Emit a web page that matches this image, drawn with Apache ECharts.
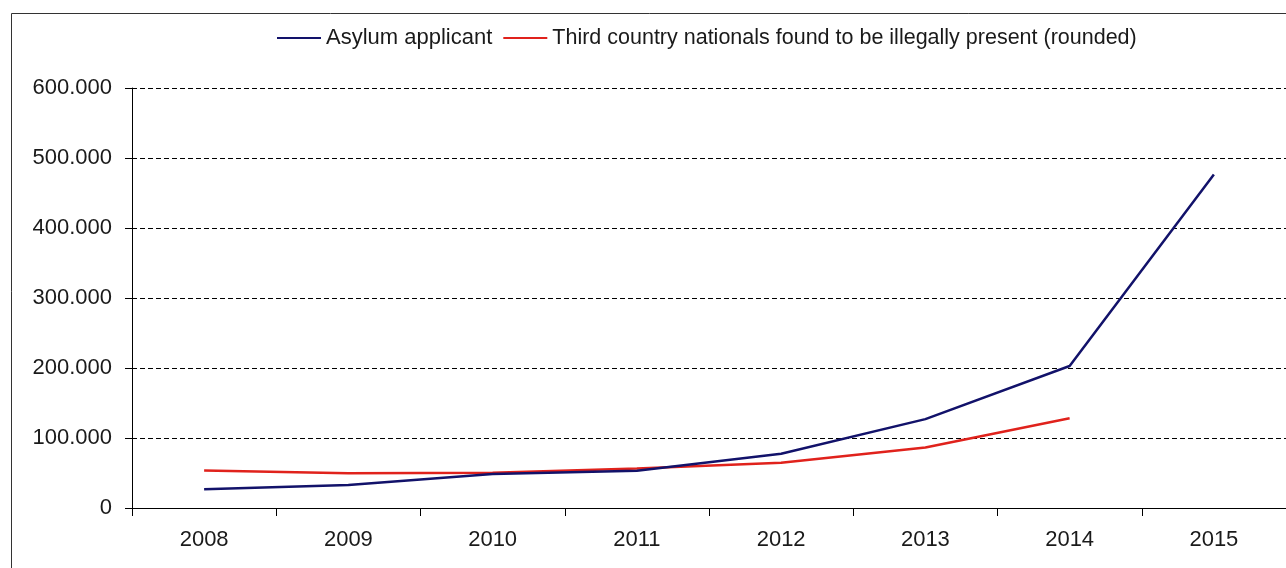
<!DOCTYPE html>
<html>
<head>
<meta charset="utf-8">
<script src="https://cdn.jsdelivr.net/npm/echarts@6/dist/echarts.min.js"></script>
<style>
  html, body { margin: 0; padding: 0; background: #fff; }
  #chart { width: 1286px; height: 568px; }
</style>
</head>
<body>
<div id="chart"></div>
<script>
const categories = ['2008', '2009', '2010', '2011', '2012', '2013', '2014', '2015'];
const seriesNames = ['Asylum applicant', 'Third country nationals found to be illegally present (rounded)'];
const asylumApplicants = [26800, 33000, 48600, 53300, 77500, 127000, 202800, 476500];
const illegallyPresent = [53700, 49500, 50300, 56300, 64800, 86300, 128300, null];
const yTicks = [0, 100000, 200000, 300000, 400000, 500000, 600000];

function fmt(v) {
  return String(Math.round(v)).replace(/\B(?=(\d{3})+(?!\d))/g, '.');
}

const FONT = "'Liberation Sans', Arial, sans-serif";
const TXT = '#1a1a1a';

const chart = echarts.init(document.getElementById('chart'), null, { renderer: 'canvas' });
chart.setOption({
  backgroundColor: '#ffffff',
  animation: false,
  graphic: [{
    type: 'rect',
    shape: { x: 11.5, y: 13.5, width: 1400, height: 700 },
    style: { fill: 'none', stroke: '#333', lineWidth: 1 },
    silent: true,
    z: 100
  }],
  legend: {
    left: 277,
    top: 27,
    padding: 0,
    itemGap: 11,
    itemWidth: 44,
    itemHeight: 2,
    icon: 'rect',
    textStyle: { fontFamily: FONT, fontSize: 22, color: TXT },
    data: [
      { name: seriesNames[0] },
      { name: seriesNames[1], textStyle: { fontSize: 21.5 } }
    ]
  },
  grid: { left: 132, top: 88, width: 1160, height: 420, containLabel: false },
  xAxis: {
    type: 'category',
    data: categories,
    boundaryGap: true,
    axisLine: { show: true, lineStyle: { color: '#000', width: 1 } },
    axisTick: { show: true, length: 8, lineStyle: { color: '#000' } },
    axisLabel: { margin: 21, fontFamily: FONT, fontSize: 22, color: TXT },
    splitLine: { show: false }
  },
  yAxis: {
    type: 'value',
    min: yTicks[0],
    max: yTicks[yTicks.length - 1],
    interval: yTicks[1] - yTicks[0],
    axisLine: { show: true, lineStyle: { color: '#000', width: 1 } },
    axisTick: { show: true, length: 7, lineStyle: { color: '#000' } },
    axisLabel: { margin: 20, fontFamily: FONT, fontSize: 22, color: TXT, formatter: fmt },
    splitLine: { show: true, lineStyle: { color: '#000', width: 1, type: [5, 3] } }
  },
  series: [
    {
      name: seriesNames[0],
      type: 'line',
      data: asylumApplicants,
      symbol: 'none',
      lineStyle: { color: '#12126a', width: 2.5 },
      itemStyle: { color: '#12126a' },
      z: 3
    },
    {
      name: seriesNames[1],
      type: 'line',
      data: illegallyPresent,
      symbol: 'none',
      lineStyle: { color: '#e0221c', width: 2.5 },
      itemStyle: { color: '#e0221c' },
      z: 2
    }
  ]
});
</script>
</body>
</html>
